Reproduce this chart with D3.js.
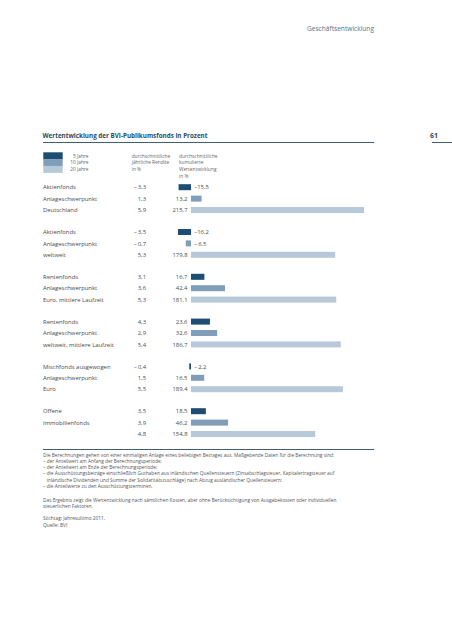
<!DOCTYPE html>
<html><head><meta charset="utf-8">
<script src="https://cdn.jsdelivr.net/npm/d3@7"></script>
<style>
html,body{margin:0;padding:0;background:#fff;}
svg{display:block;}
text{font-family:"Open Sans","Noto Sans",sans-serif;}
</style></head>
<body>
<script>
// ---- data ----
const groups = [
  ["Aktienfonds", "Anlageschwerpunkt", "Deutschland"],
  ["Aktienfonds", "Anlageschwerpunkt", "weltweit"],
  ["Rentenfonds", "Anlageschwerpunkt", "Euro, mittlere Laufzeit"],
  ["Rentenfonds", "Anlageschwerpunkt", "weltweit, mittlere Laufzeit"],
  ["Mischfonds ausgewogen", "Anlageschwerpunkt", "Euro"],
  ["Offene", "Immobilienfonds", ""]
];
const periods = ["5 Jahre", "10 Jahre", "20 Jahre"];
const annualReturn = [
  [-3.3, 1.3, 5.9],
  [-3.5, -0.7, 5.3],
  [3.1, 3.6, 5.3],
  [4.3, 2.9, 5.4],
  [-0.4, 1.5, 5.5],
  [3.5, 3.9, 4.8]
];
const cumulative = [
  [-15.5, 13.2, 215.7],
  [-16.2, -6.5, 179.8],
  [16.7, 42.4, 181.1],
  [23.6, 32.6, 186.7],
  [-2.2, 16.5, 189.4],
  [18.5, 46.2, 154.8]
];
const colors = ["#1c4d72", "#819eb9", "#b7c9d8"];
const headerText = "Geschäftsentwicklung";
const titleText = "Wertentwicklung der BVI-Publikumsfonds in Prozent";
const pageNo = "61";
const col1Head = ["durchschnittliche", "jährliche Rendite", "in %"];
const col2Head = ["durchschnittliche", "kumulierte", "Wertentwicklung", "in %"];
const notes = [
  "Die Berechnungen gehen von einer einmaligen Anlage eines beliebigen Betrages aus. Maßgebende Daten für die Berechnung sind:",
  "– der Anteilwert am Anfang der Berechnungsperiode;",
  "– der Anteilwert am Ende der Berechnungsperiode;",
  "– die Ausschüttungsbeträge einschließlich Guthaben aus inländischen Quellensteuern (Zinsabschlagsteuer, Kapitalertragsteuer auf",
  "   inländische Dividenden und Summe der Solidaritätszuschläge) nach Abzug ausländischer Quellensteuern;",
  "– die Anteilwerte zu den Ausschüttungsterminen.",
  "",
  "Das Ergebnis zeigt die Wertentwicklung nach sämtlichen Kosten, aber ohne Berücksichtigung von Ausgabekosten oder individuellen",
  "steuerlichen Faktoren.",
  "",
  "Stichtag: Jahresultimo 2011,",
  "Quelle: BVI"
];

// ---- drawing ----
const W = 452, H = 640;
const svg = d3.select("body").append("svg").attr("width", W).attr("height", H);
svg.append("rect").attr("width", W).attr("height", H).attr("fill", "#fff");

const textCol = "#4a4a4a";
const fmt = v => {
  const a = Math.abs(v);
  const s = d3.format(".1f")(a).replace(".", ",");
  if (v >= 0) return s;
  return a < 10 ? "–\u2009" + s : "–" + s;
};

// header
svg.append("text").attr("x", 374).attr("y", 31).attr("text-anchor", "end")
  .attr("font-size", 6.6).attr("fill", "#5d7183").text(headerText);

// title
svg.append("text").attr("x", 42.5).attr("y", 138).attr("font-size", 7)
  .attr("font-weight", 700).attr("fill", "#2b4d63")
  .attr("textLength", 165).attr("lengthAdjust", "spacingAndGlyphs").text(titleText);
svg.append("text").attr("x", 438).attr("y", 138).attr("text-anchor", "end")
  .attr("font-size", 7).attr("font-weight", 700).attr("fill", "#2b4d63").text(pageNo);
svg.append("line").attr("x1", 43).attr("x2", 374).attr("y1", 142.5).attr("y2", 142.5)
  .attr("stroke", "#2b4d5e").attr("stroke-width", 0.9);
svg.append("line").attr("x1", 432).attr("x2", 452).attr("y1", 142.5).attr("y2", 142.5)
  .attr("stroke", "#2b4d5e").attr("stroke-width", 0.9);

// legend
const legY = d3.scaleBand().domain(periods).range([152.3, 172.7]).padding(0);
svg.append("g").selectAll("rect").data(periods).join("rect")
  .attr("x", 43.3).attr("width", 19.4)
  .attr("y", d => legY(d)).attr("height", legY.bandwidth() + 0.2)
  .attr("fill", (d, i) => colors[i]);
svg.append("g").selectAll("text").data(periods).join("text")
  .attr("x", 88.5).attr("text-anchor", "end")
  .attr("y", d => legY(d) + legY.bandwidth() / 2 + 1.8)
  .attr("font-size", 4.8).attr("fill", "#666").text(d => d);

svg.append("g").selectAll("text").data(col1Head).join("text")
  .attr("x", 131.7).attr("y", (d, i) => 157.8 + i * 6.6)
  .attr("font-size", 4.8).attr("fill", "#666").text(d => d);
svg.append("g").selectAll("text").data(col2Head).join("text")
  .attr("x", 179).attr("y", (d, i) => 157.8 + i * 6.6)
  .attr("font-size", 4.8).attr("fill", "#666").text(d => d);

// rows
const rows = [];
groups.forEach((g, gi) => g.forEach((lab, ri) => rows.push({
  g: gi, r: ri, label: lab, ret: annualReturn[gi][ri], cum: cumulative[gi][ri]
})));
const yPos = d => 187.2 + d.g * 44.8 + d.r * 11.4;
const x = d3.scaleLinear().domain([0, 215.7]).range([191, 364]);
const barH = 6;

const rg = svg.append("g").selectAll("g").data(rows).join("g");
rg.append("text").attr("x", 43).attr("y", d => yPos(d) + 2.1)
  .attr("font-size", 5.9).attr("fill", textCol).text(d => d.label);
rg.append("text").attr("x", 146).attr("y", d => yPos(d) + 2.1).attr("text-anchor", "end")
  .attr("font-size", 5.9).attr("fill", textCol).text(d => fmt(d.ret));
rg.append("rect")
  .attr("x", d => x(Math.min(0, d.cum)))
  .attr("width", d => Math.abs(x(d.cum) - x(0)))
  .attr("y", d => yPos(d) - barH / 2).attr("height", barH)
  .attr("fill", d => colors[d.r]);
rg.append("text")
  .attr("x", d => d.cum < 0 ? x(0) + 3.3 : x(0) - 3.5)
  .attr("text-anchor", d => d.cum < 0 ? "start" : "end")
  .attr("y", d => yPos(d) + 2.1)
  .attr("font-size", 5.9).attr("fill", textCol).text(d => fmt(d.cum));

// bottom rule
svg.append("line").attr("x1", 43).attr("x2", 374).attr("y1", 449.5).attr("y2", 449.5)
  .attr("stroke", "#2b4d5e").attr("stroke-width", 0.9);

// notes
const noteY = [456.5, 462.8, 469.1, 475.4, 481.7, 488.0, null, 502, 508.3, null, 520.3, 526.6];
svg.append("g").selectAll("text").data(notes.map((t, i) => ({t, y: noteY[i]})).filter(d => d.t))
  .join("text")
  .attr("x", 43).attr("y", d => d.y)
  .attr("font-size", 4.8).attr("fill", "#555")
  .attr("xml:space", "preserve").style("white-space", "pre")
  .text(d => d.t);
</script>
</body></html>
